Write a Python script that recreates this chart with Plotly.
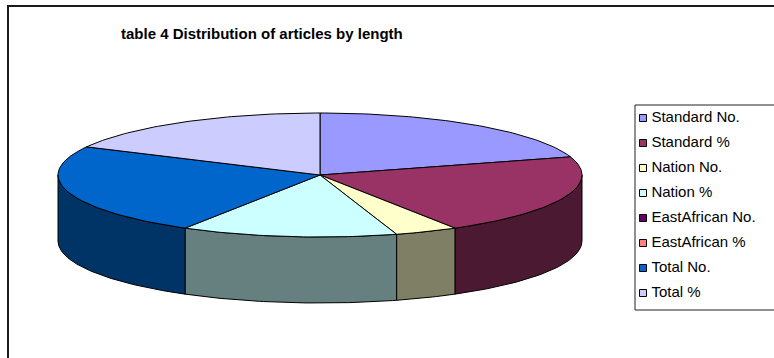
import numpy as np
import plotly.graph_objects as go

# ---- data ----
categories = ["Standard No.", "Standard %", "Nation No.", "Nation %",
              "EastAfrican No.", "EastAfrican %", "Total No.", "Total %"]
values = [73, 76, 14, 48, 0, 0, 86, 63]
colors = ["#9999FF", "#993366", "#FFFFCC", "#CCFFFF",
          "#660066", "#FF8080", "#0066CC", "#CCCCFF"]
title_text = "table 4 Distribution of articles by length"

# ---- geometry (pixel space) ----
W, H = 774, 358
cx, cy, rx, ry, depth = 320, 175, 262, 62, 66


def darken(hexc, f=0.5):
    r, g, b = int(hexc[1:3], 16), int(hexc[3:5], 16), int(hexc[5:7], 16)
    return "#%02X%02X%02X" % (int(r * f), int(g * f), int(b * f))


def arc(a0, a1, dy=0.0):
    n = max(2, int(abs(a1 - a0) / 1.0) + 2)
    t = np.radians(np.linspace(a0, a1, n))
    return cx + rx * np.sin(t), cy - ry * np.cos(t) + dy


total = float(sum(values))
angles = np.concatenate([[0.0], np.cumsum(values) / total * 360.0])

fig = go.Figure()

# side faces (front half: 90..270 deg)
for i, v in enumerate(values):
    a0, a1 = angles[i], angles[i + 1]
    s0, s1 = max(a0, 90.0), min(a1, 270.0)
    if v <= 0 or s1 <= s0:
        continue
    xt, yt = arc(s0, s1)
    xb, yb = arc(s1, s0, depth)
    xs = np.concatenate([xt, xb, xt[:1]])
    ys = np.concatenate([yt, yb, yt[:1]])
    fig.add_trace(go.Scatter(x=xs, y=ys, mode="lines", fill="toself",
                             fillcolor=darken(colors[i]),
                             line=dict(color="black", width=1),
                             hoverinfo="skip", showlegend=False))

# top faces
for i, v in enumerate(values):
    a0, a1 = angles[i], angles[i + 1]
    if v <= 0:
        continue
    xa, ya = arc(a0, a1)
    xs = np.concatenate([[cx], xa, [cx]])
    ys = np.concatenate([[cy], ya, [cy]])
    fig.add_trace(go.Scatter(x=xs, y=ys, mode="lines", fill="toself",
                             fillcolor=colors[i],
                             line=dict(color="black", width=1),
                             name=categories[i], text=categories[i],
                             hoverinfo="text", showlegend=False))

# legend (drawn manually to mimic the Excel legend box)
lg_x, lg_y0, lg_dy = 643, 118, 25
fig.add_trace(go.Scatter(
    x=[lg_x] * len(categories),
    y=[lg_y0 + k * lg_dy for k in range(len(categories))],
    mode="markers+text",
    marker=dict(symbol="square", size=7, color=colors,
                line=dict(color="black", width=1)),
    text=["\u2009" + c for c in categories],
    textposition="middle right",
    textfont=dict(family="Arial, Liberation Sans, sans-serif", size=15, color="black"),
    hoverinfo="skip", showlegend=False, cliponaxis=False))

fig.update_layout(
    width=W, height=H,
    margin=dict(l=0, r=0, t=0, b=0),
    paper_bgcolor="white", plot_bgcolor="white",
    xaxis=dict(range=[0, W], visible=False, fixedrange=True),
    yaxis=dict(range=[H, 0], visible=False, fixedrange=True),
    shapes=[
        dict(type="rect", xref="x", yref="y", x0=8, y0=6, x1=W + 10, y1=H + 10,
             line=dict(color="#1a1a1a", width=2), layer="below"),
        dict(type="rect", xref="x", yref="y", x0=635, y0=105, x1=W + 10, y1=310,
             line=dict(color="#222222", width=1), fillcolor="white", layer="below"),
    ],
    annotations=[dict(text="<b>" + title_text + "</b>", x=262, y=33,
                      xref="x", yref="y", showarrow=False,
                      font=dict(family="Arial, Liberation Sans, sans-serif",
                                size=15, color="black"))],
    showlegend=False,
)

fig.write_html("out.html")
